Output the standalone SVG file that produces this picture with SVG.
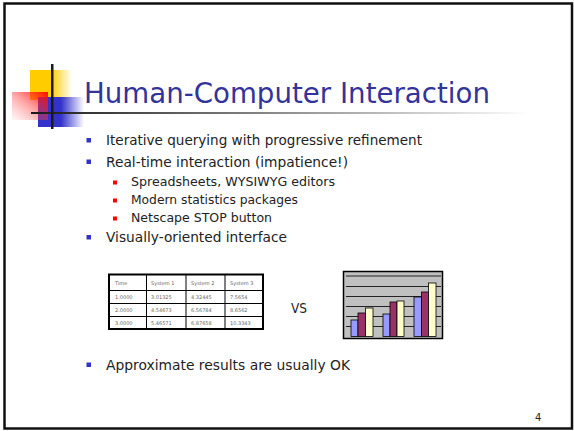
<svg xmlns="http://www.w3.org/2000/svg" width="574" height="431" viewBox="0 0 574 431">
<style>
  .t{font-family:"DejaVu Sans","Liberation Sans",sans-serif;fill:#222}
  .title{font-family:"DejaVu Sans","Liberation Sans",sans-serif;fill:#333399;font-size:29px}
  .b1{font-size:14px}
  .b2{font-size:12px}
  .blt{fill:#3333CC}
  .rb{fill:#FF0000}
  .cell{font-family:"DejaVu Sans","Liberation Sans",sans-serif;font-size:5px;fill:#666}
  .bar{stroke:#000;stroke-width:0.8}
</style>
<defs>
  <linearGradient id="gy" x1="0" y1="0" x2="1" y2="0">
    <stop offset="0" stop-color="#FFCC00"/>
    <stop offset="0.5" stop-color="#FFCC00"/>
    <stop offset="1" stop-color="#FFCC00" stop-opacity="0"/>
  </linearGradient>
  <linearGradient id="gb" x1="0" y1="0" x2="1" y2="0">
    <stop offset="0" stop-color="#3333CC"/>
    <stop offset="0.5" stop-color="#3333CC"/>
    <stop offset="1" stop-color="#3333CC" stop-opacity="0"/>
  </linearGradient>
  <linearGradient id="gr" x1="1" y1="0" x2="0" y2="1">
    <stop offset="0" stop-color="#FF0000" stop-opacity="0.95"/>
    <stop offset="0.5" stop-color="#FF3333" stop-opacity="0.45"/>
    <stop offset="1" stop-color="#FF6666" stop-opacity="0.05"/>
  </linearGradient>
  <linearGradient id="gl" x1="0" y1="0" x2="1" y2="0">
    <stop offset="0" stop-color="#1a1a1a"/>
    <stop offset="0.4" stop-color="#777"/>
    <stop offset="1" stop-color="#fff"/>
  </linearGradient>
</defs>

<rect id="frame" x="4.5" y="3.5" width="567.5" height="425" fill="#fff" stroke="#111" stroke-width="2.5"/>

<g id="logo">
  <rect x="30" y="70" width="42" height="30" fill="url(#gy)"/>
  <rect x="38" y="97" width="46" height="30" fill="url(#gb)"/>
  <rect x="12" y="92" width="36" height="28" fill="url(#gr)"/>
  <rect x="31" y="112" width="500" height="2" fill="url(#gl)"/>
  <rect x="51" y="64" width="2.5" height="65" fill="#1a1a1a"/>
</g>

<g id="title">
  <text class="title" x="84" y="102.5" textLength="406" lengthAdjust="spacingAndGlyphs">Human-Computer Interaction</text>
</g>

<g id="bullets">
  <rect class="blt" x="86.5" y="138" width="4.5" height="4.5"/>
  <text class="t b1" x="106" y="145" textLength="316" lengthAdjust="spacingAndGlyphs">Iterative querying with progressive refinement</text>
  <rect class="blt" x="86.5" y="159.5" width="4.5" height="4.5"/>
  <text class="t b1" x="106" y="166.5" textLength="242" lengthAdjust="spacingAndGlyphs">Real-time interaction (impatience!)</text>
  <rect class="rb" x="113" y="180.5" width="4" height="4"/>
  <text class="t b2" x="131" y="185.5" textLength="204" lengthAdjust="spacingAndGlyphs">Spreadsheets, WYSIWYG editors</text>
  <rect class="rb" x="113" y="198.5" width="4" height="4"/>
  <text class="t b2" x="131" y="203.5" textLength="167" lengthAdjust="spacingAndGlyphs">Modern statistics packages</text>
  <rect class="rb" x="113" y="216.5" width="4" height="4"/>
  <text class="t b2" x="131" y="221.5" textLength="141" lengthAdjust="spacingAndGlyphs">Netscape STOP button</text>
  <rect class="blt" x="86.5" y="235" width="4.5" height="4.5"/>
  <text class="t b1" x="106" y="242" textLength="181" lengthAdjust="spacingAndGlyphs">Visually-oriented interface</text>
  <rect class="blt" x="86.5" y="362.5" width="4.5" height="4.5"/>
  <text class="t b1" x="106" y="369.5" textLength="244" lengthAdjust="spacingAndGlyphs">Approximate results are usually OK</text>
</g>

<g id="table">
  <rect x="109" y="274.5" width="154" height="54.5" fill="#fff" stroke="#000" stroke-width="2"/>
  <g stroke="#000" stroke-width="1">
    <line x1="109" y1="290.5" x2="263" y2="290.5"/>
    <line x1="109" y1="303.5" x2="263" y2="303.5"/>
    <line x1="109" y1="316.5" x2="263" y2="316.5"/>
    <line x1="146.5" y1="274.5" x2="146.5" y2="329"/>
    <line x1="186" y1="274.5" x2="186" y2="329"/>
    <line x1="225" y1="274.5" x2="225" y2="329"/>
  </g>
  <text class="cell" x="115" y="285">Time</text>
  <text class="cell" x="151" y="285">System 1</text>
  <text class="cell" x="191" y="285">System 2</text>
  <text class="cell" x="230" y="285">System 3</text>
  <text class="cell" x="115" y="299">1.0000</text>
  <text class="cell" x="151" y="299">3.01325</text>
  <text class="cell" x="191" y="299">4.32445</text>
  <text class="cell" x="230" y="299">7.5654</text>
  <text class="cell" x="115" y="312">2.0000</text>
  <text class="cell" x="151" y="312">4.54673</text>
  <text class="cell" x="191" y="312">6.56784</text>
  <text class="cell" x="230" y="312">8.6562</text>
  <text class="cell" x="115" y="325">3.0000</text>
  <text class="cell" x="151" y="325">5.46571</text>
  <text class="cell" x="191" y="325">6.87658</text>
  <text class="cell" x="230" y="325">10.3343</text>
</g>

<g id="vs">
  <text class="t" x="291" y="312.5" font-size="14" textLength="16" lengthAdjust="spacingAndGlyphs">VS</text>
</g>

<g id="chart">
  <rect x="343.5" y="271.5" width="99" height="67" fill="#C0C0C0" stroke="#000" stroke-width="1.5"/>
  <g stroke="#222" stroke-width="1">
    <line x1="346" y1="276" x2="441" y2="276"/>
    <line x1="346" y1="286.5" x2="441" y2="286.5"/>
    <line x1="346" y1="296.5" x2="441" y2="296.5"/>
    <line x1="346" y1="306.5" x2="441" y2="306.5"/>
    <line x1="346" y1="316.5" x2="441" y2="316.5"/>
    <line x1="346" y1="326.5" x2="441" y2="326.5"/>
  </g>
  <rect class="bar" x="351" y="320" width="7" height="16.5" fill="#9999FF"/>
  <rect class="bar" x="358" y="313" width="7.5" height="23.5" fill="#993366"/>
  <rect class="bar" x="365.5" y="308" width="7.5" height="28.5" fill="#FFFFCC"/>
  <rect class="bar" x="383" y="314" width="7" height="22.5" fill="#9999FF"/>
  <rect class="bar" x="390" y="302" width="7" height="34.5" fill="#993366"/>
  <rect class="bar" x="397" y="301" width="7" height="35.5" fill="#FFFFCC"/>
  <rect class="bar" x="414" y="297" width="7.5" height="39.5" fill="#9999FF"/>
  <rect class="bar" x="421.5" y="292" width="7" height="44.5" fill="#993366"/>
  <rect class="bar" x="428.5" y="283" width="7.5" height="53.5" fill="#FFFFCC"/>
</g>

<g id="page-number">
  <text class="t" x="535" y="421" font-size="10" fill="#333">4</text>
</g>
</svg>
